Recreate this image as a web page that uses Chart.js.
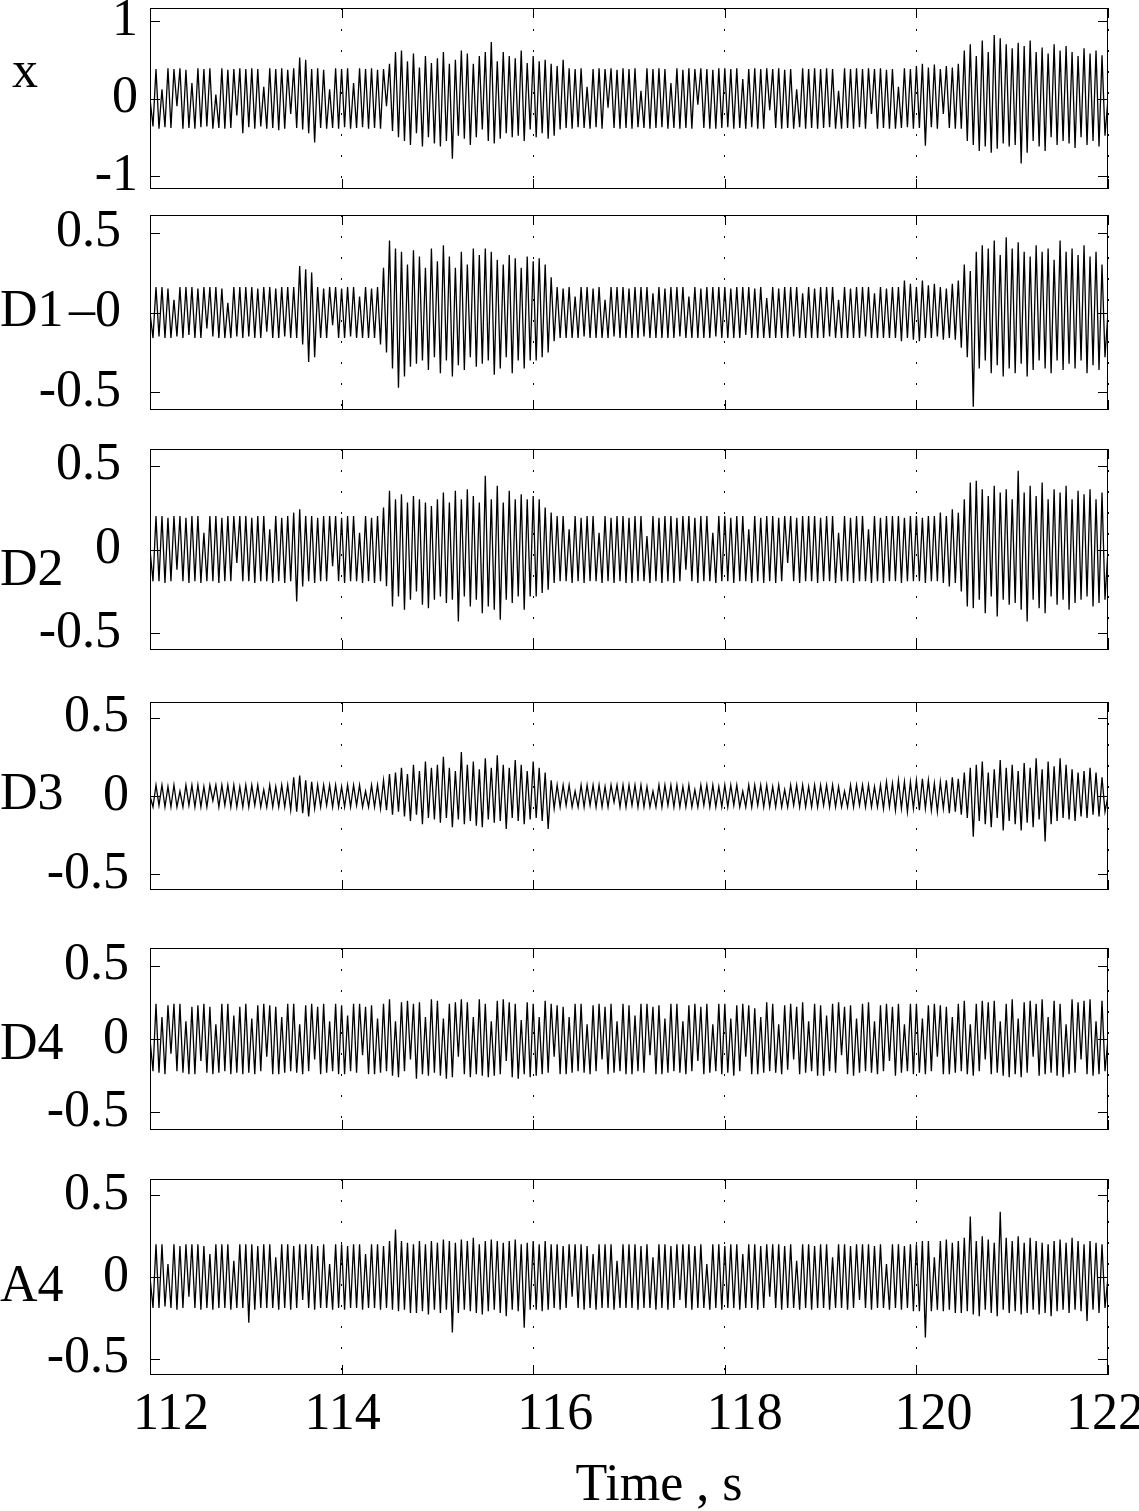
<!DOCTYPE html>
<html>
<head>
<meta charset="utf-8">
<title>Signal and wavelet details</title>
<script src="https://cdn.jsdelivr.net/npm/chart.js@4.4.1/dist/chart.umd.min.js"></script>
<style>
  html, body { margin: 0; padding: 0; background: #fff; }
  #wrap { position: relative; width: 1139px; height: 1511px; overflow: hidden; }
  #wrap canvas { position: absolute; left: 0; }
</style>
</head>
<body>
<div id="wrap"></div>
<script>
// samples in hundredths, 32 per second, starting at t = 112 s
const startTime = 112;
const sampleRate = 32;
const timeTicks = [112, 114, 116, 118, 120, 122];

const panelLabels = ['x', 'D1', 'D2', 'D3', 'D4', 'A4'];
const yLimits = [1.17, 0.61, 0.6, 0.6, 0.62, 0.6];
const yTickValues = [
  [-1, 0, 1], [-0.5, 0, 0.5], [-0.5, 0, 0.5], [-0.5, 0, 0.5], [-0.5, 0, 0.5], [-0.5, 0, 0.5]
];
const yTickText = [
  ['-1', '0', '1'], ['-0.5', '\u20130', '0.5'], ['-0.5', '0', '0.5'],
  ['-0.5', '0', '0.5'], ['-0.5', '0', '0.5'], ['-0.5', '0', '0.5']
];

const sigX = [
  0,-36,38,-39,12,-37,39,-38, 38,-10,39,-39,37,-38,20,-39, 39,-37,38,-36,39,-39,5,-38, 39,-39,37,-38,38,-22,39,-45,
  38,-37,39,-39,38,-36,15,-39, 39,-38,38,-41,39,-39,37,-20, 39,-38,53,-40,50,-45,38,-57, 39,-38,37,-39,12,-38,39,-39,
  38,-37,39,-39,20,-38,39,-37, 38,-39,39,-38,37,-39,38,-10, 45,-42,60,-50,62,-55,48,-60, 58,-45,40,-62,55,-50,46,-58,
  52,-62,60,-55,45,-78,50,-48, 62,-52,58,-60,45,-50,55,-40, 60,-55,73,-58,48,-52,60,-45, 55,-50,52,-48,62,-55,46,-40,
  55,-50,48,-45,50,-52,45,-48, 42,-40,50,-38,39,-39,38,-37, 39,-38,15,-39,38,-37,39,-39, 38,-12,39,-38,37,-39,39,-38,
  38,-39,39,-37,10,-38,39,-39, 38,-38,39,-37,38,-39,20,-38, 39,-39,37,-38,39,-39,38,-8, 39,-38,38,-39,37,-39,39,-38,
  39,-37,38,-39,39,-38,25,-39, 38,-37,39,-39,38,-39,39,-15, 38,-38,39,-39,37,-38,38,-39, 12,-37,39,-39,38,-38,39,-39,
  38,-38,39,-37,38,-39,10,-39, 39,-38,38,-39,39,-37,38,-39, 39,-20,38,-39,39,-38,37,-39, 38,-39,15,-38,39,-37,38,-39,
  42,-38,45,-61,40,-37,44,-39, 38,-20,42,-38,40,-39,45,-39, 62,-55,70,-60,55,-68,75,-62, 60,-70,82,-65,78,-58,70,-62,
  65,-60,72,-84,68,-70,75,-55, 60,-62,66,-68,58,-50,70,-60, 62,-55,68,-58,60,-64,55,-50, 65,-60,58,-55,62,-62,56,-48,
  0
];

const sigD1 = [
  0,-16,16,-15,16,-16,15,-16, 8,-15,16,-16,16,-14,16,-16, 15,-16,16,-10,16,-15,16,-16, 15,-16,6,-16,16,-15,16,-16,
  16,-15,16,-16,15,-16,16,-12, 16,-16,15,-16,16,-15,16,-16, 16,-16,29,-20,27,-31,25,-28, 16,-16,15,-16,16,-8,16,-16,
  15,-16,16,-15,16,-16,10,-16, 16,-16,15,-16,16,-20,28,-25, 45,-35,40,-47,38,-40,30,-34, 39,-32,35,-30,28,-36,40,-28,
  32,-38,42,-30,35,-40,28,-33, 38,-36,30,-28,40,-34,36,-32, 40,-30,38,-39,33,-35,30,-28, 36,-38,34,-30,28,-35,35,-30,
  32,-30,34,-28,30,-25,22,-18, 16,-16,15,-16,16,-16,10,-16, 16,-15,16,-16,15,-16,16,-16, 8,-16,16,-15,16,-16,16,-16,
  15,-16,16,-16,16,-15,16,-16, 12,-16,16,-16,15,-16,16,-16, 16,-15,16,-16,10,-16,16,-16, 15,-16,16,-16,16,-15,16,-16,
  16,-16,15,-16,16,-16,16,-14, 16,-16,15,-16,16,-16,9,-16, 16,-16,15,-16,16,-16,16,-15, 16,-16,12,-16,16,-16,15,-16,
  16,-16,16,-15,16,-16,8,-16, 16,-16,15,-16,16,-16,16,-15, 16,-16,12,-16,16,-16,15,-16, 16,-16,16,-18,20,-16,18,-17,
  16,-18,20,-16,17,-16,18,-15, 16,-17,15,-16,18,-17,20,-22, 30,-28,26,-59,38,-35,42,-30, 40,-38,45,-33,36,-40,47,-35,
  40,-38,44,-32,38,-40,35,-36, 42,-30,38,-35,40,-38,33,-30, 45,-36,38,-32,40,-35,36,-30, 42,-38,35,-33,38,-36,30,-28,
  0
];

const sigD2 = [
  0,-19,20,-19,20,-20,19,-19, 20,-12,20,-19,19,-20,20,-19, 20,-20,10,-19,20,-19,20,-20, 19,-19,20,-19,20,-8,20,-19,
  20,-19,19,-20,20,-19,20,-19, 12,-20,20,-19,19,-20,20,-19, 22,-31,24,-22,20,-19,20,-20, 19,-19,20,-19,20,-10,20,-19,
  19,-20,20,-19,20,-19,10,-20, 20,-19,19,-20,20,-19,25,-22, 35,-34,30,-28,33,-36,28,-30, 32,-25,30,-33,28,-35,26,-30,
  30,-28,34,-32,28,-30,35,-43, 30,-28,36,-34,32,-30,28,-38, 44,-34,30,-36,38,-42,28,-30, 35,-32,30,-28,33,-36,30,-28,
  32,-28,30,-26,25,-24,22,-20, 20,-19,20,-19,12,-20,20,-19, 19,-20,20,-19,20,-19,10,-20, 20,-19,19,-20,20,-19,20,-20,
  19,-20,20,-19,20,-19,8,-20, 20,-19,19,-20,20,-19,20,-20, 19,-19,20,-12,20,-19,19,-20, 20,-19,20,-19,10,-20,20,-19,
  20,-19,19,-20,20,-19,20,-19, 12,-20,20,-19,19,-20,20,-19, 20,-20,19,-19,20,-8,20,-19, 19,-20,20,-19,20,-19,20,-20,
  19,-19,20,-19,20,-20,10,-19, 20,-19,19,-20,20,-19,20,-19, 12,-20,20,-19,19,-20,20,-19, 20,-19,20,-20,19,-19,20,-19,
  20,-19,19,-20,20,-19,20,-19, 22,-20,20,-22,24,-20,22,-25, 30,-34,40,-35,41,-30,36,-38, 32,-28,38,-40,34,-30,36,-33,
  30,-32,47,-36,34,-43,38,-30, 32,-35,40,-38,30,-28,36,-33, 34,-30,38,-36,30,-32,35,-30, 33,-28,36,-34,30,-32,34,-30,
  0
];

const sigD3 = [
  0,-7,7,-6,7,-7,6,-7, 7,-7,3,-7,7,-6,7,-7, 7,-7,6,-7,7,-3,7,-7, 7,-6,7,-7,7,-7,6,-7,
  7,-7,7,-6,7,-7,4,-7, 7,-7,6,-7,7,-7,7,-9, 12,-10,13,-11,10,-13,9,-8, 7,-7,7,-6,7,-7,7,-7,
  6,-7,7,-7,7,-6,7,-7, 3,-7,7,-7,7,-8,10,-9, 14,-12,15,-10,18,-13,14,-16, 20,-12,16,-18,22,-14,18,-15,
  20,-17,25,-14,18,-20,16,-15, 28,-18,20,-16,22,-19,17,-20, 24,-15,18,-17,26,-16,20,-21, 18,-14,23,-16,20,-18,16,-15,
  22,-14,18,-16,15,-21,10,-8, 7,-7,7,-6,7,-7,3,-7, 7,-7,7,-6,7,-7,7,-7, 6,-7,7,-4,7,-7,7,-7,
  7,-6,7,-7,7,-7,6,-7, 3,-7,7,-7,7,-6,7,-7, 7,-7,6,-7,7,-7,4,-7, 7,-6,7,-7,7,-7,6,-7,
  7,-7,7,-6,7,-7,3,-7, 7,-7,7,-6,7,-7,7,-7, 6,-7,7,-7,4,-7,7,-6, 7,-7,7,-7,6,-7,7,-7,
  7,-6,7,-7,7,-7,6,-7, 3,-7,7,-7,7,-6,7,-7, 7,-7,6,-7,7,-8,9,-7, 8,-9,10,-8,9,-10,9,-8,
  10,-9,11,-8,10,-9,8,-10, 9,-8,10,-11,12,-10,11,-12, 15,-14,18,-26,20,-16,22,-18, 15,-20,17,-14,23,-22,18,-16,
  20,-18,16,-22,21,-17,18,-20, 24,-15,17,-29,22,-18,19,-16, 24,-14,20,-15,17,-16,15,-13, 16,-14,18,-12,15,-13,12,-10,
  0
];

const sigD4 = [
  0,-22,24,-23,15,-24,23,-10, 24,-22,24,-23,12,-24,22,-24, 23,-15,24,-23,22,-24,10,-23, 24,-22,24,-24,16,-23,22,-24,
  24,-23,14,-24,23,-22,24,-12, 23,-24,22,-24,15,-23,24,-22, 24,-23,10,-24,23,-22,24,-14, 22,-24,24,-23,12,-22,24,-24,
  23,-24,16,-22,24,-23,24,-11, 22,-24,23,-24,14,-23,24,-22, 27,-25,12,-26,25,-22,26,-14, 24,-27,25,-24,15,-25,27,-23,
  26,-25,14,-27,24,-26,25,-12, 27,-24,25,-26,15,-24,27,-25, 24,-26,12,-25,26,-24,27,-15, 25,-26,24,-27,13,-24,25,-26,
  24,-25,15,-24,26,-23,24,-12, 23,-24,22,-24,15,-23,24,-22, 24,-23,10,-24,23,-22,24,-14, 22,-24,24,-23,12,-22,24,-24,
  23,-24,16,-22,24,-23,24,-11, 22,-24,23,-24,14,-23,24,-22, 24,-23,12,-24,23,-22,24,-15, 22,-24,24,-23,10,-22,24,-24,
  24,-23,14,-25,23,-22,24,-12, 23,-24,21,-24,15,-23,25,-22, 24,-23,10,-24,23,-21,24,-14, 22,-24,25,-23,12,-22,24,-25,
  23,-25,16,-22,24,-23,25,-11, 22,-24,23,-25,14,-23,24,-22, 25,-23,12,-24,23,-22,24,-15, 22,-25,24,-23,10,-22,24,-24,
  24,-23,14,-24,23,-22,24,-12, 23,-24,22,-24,15,-23,24,-22, 26,-24,10,-25,24,-22,26,-14, 25,-24,26,-23,12,-25,24,-26,
  27,-24,14,-26,25,-23,26,-12, 24,-25,27,-24,15,-23,26,-25, 24,-26,10,-24,27,-23,25,-14, 26,-24,27,-25,12,-24,26,-22,
  0
];

const sigA4 = [
  0,-19,20,-19,20,-18,8,-19, 20,-20,19,-19,20,-12,20,-19, 20,-20,19,-19,14,-20,20,-19, 20,-19,20,-20,10,-19,20,-19,
  20,-28,20,-20,19,-19,20,-19, 20,-19,12,-20,20,-19,20,-20, 19,-19,20,-14,20,-19,20,-20, 19,-19,20,-19,8,-20,20,-19,
  20,-20,19,-19,20,-19,20,-20, 14,-19,20,-19,20,-20,19,-19, 22,-20,29,-21,22,-20,21,-22, 20,-22,22,-21,20,-23,22,-20,
  21,-22,23,-20,22,-34,21,-22, 23,-20,22,-21,24,-22,20,-23, 22,-21,23,-20,22,-22,21,-24, 22,-20,23,-21,20,-31,21,-20,
  22,-20,20,-21,22,-20,20,-19, 20,-20,19,-19,20,-12,20,-19, 20,-20,19,-19,14,-20,20,-19, 20,-19,20,-20,10,-19,20,-19,
  20,-19,20,-20,19,-19,20,-19, 12,-20,20,-19,20,-20,19,-19, 20,-14,20,-19,20,-20,19,-19, 20,-19,8,-20,20,-19,20,-20,
  19,-19,20,-19,20,-20,14,-19, 20,-19,20,-20,19,-19,20,-12, 20,-19,20,-20,19,-19,20,-19, 10,-20,20,-19,20,-20,19,-19,
  20,-19,20,-20,12,-19,20,-19, 20,-20,19,-19,20,-14,20,-19, 20,-20,19,-19,20,-19,8,-20, 20,-19,20,-20,19,-19,20,-21,
  20,-21,22,-37,22,-21,12,-20, 22,-21,23,-20,21,-22,22,-22, 24,-21,37,-23,22,-24,25,-20, 23,-22,21,-24,40,-20,24,-22,
  22,-21,25,-23,21,-22,24,-20, 22,-23,21,-22,20,-24,22,-21, 23,-20,21,-22,24,-20,22,-21, 20,-27,22,-20,21,-22,20,-19,
  0
];

const signals = [sigX, sigD1, sigD2, sigD3, sigD4, sigA4];

// page layout (pixels)
const pageW = 1139, pageH = 1511;
const plotLeft = 150, plotRight = 1108;
const panelBoxes = [[8, 189], [215, 410], [449, 650], [702, 890], [948, 1130], [1179, 1375]];
const labelShift = [-25, 0, 22, -1, 6, 10];
const labelLeft = [12, 0, 0, 0, 0, 0];
const yTickPad = [4, 21, 21, 13, 13, 13];
const xTickShift = [21, 1, 22, 20, 17, -3];
const edge = 10;
const fontSize = 52;
const fontFamily = '"Liberation Serif", "Times New Roman", serif';

Chart.defaults.font.family = fontFamily;
Chart.defaults.color = '#000';

window.addEventListener('DOMContentLoaded', () => {
  const wrap = document.getElementById('wrap');

  signals.forEach((values, i) => {
    const isLast = i === signals.length - 1;
    const [boxTop, boxBottom] = panelBoxes[i];
    const canvasTop = boxTop - edge;
    const canvasBottom = isLast ? pageH : boxBottom + edge;

    const canvas = document.createElement('canvas');
    canvas.width = pageW;
    canvas.height = canvasBottom - canvasTop;
    canvas.style.top = canvasTop + 'px';
    wrap.appendChild(canvas);

    const points = values.map((v, k) => ({ x: startTime + k / sampleRate, y: v / 100 }));

    const frame = {
      id: 'panelFrame',
      afterDraw(chart) {
        const { ctx, chartArea: a, scales: { x, y } } = chart;
        ctx.save();
        ctx.strokeStyle = '#000';
        ctx.lineWidth = 1;
        ctx.setLineDash([]);
        ctx.beginPath();
        x.ticks.forEach((t) => {
          const px = Math.round(x.getPixelForValue(t.value)) + 0.5;
          ctx.moveTo(px, a.top); ctx.lineTo(px, a.top + 10);
          ctx.moveTo(px, a.bottom); ctx.lineTo(px, a.bottom - 10);
        });
        y.ticks.forEach((t) => {
          const py = Math.round(y.getPixelForValue(t.value)) + 0.5;
          ctx.moveTo(a.left, py); ctx.lineTo(a.left + 10, py);
          ctx.moveTo(a.right, py); ctx.lineTo(a.right - 10, py);
        });
        ctx.stroke();
        ctx.strokeRect(Math.round(a.left) + 0.5, Math.round(a.top) + 0.5,
          Math.round(a.right - a.left) - 1, Math.round(a.bottom - a.top) - 1);

        ctx.fillStyle = '#000';
        ctx.font = fontSize + 'px ' + fontFamily;
        ctx.textAlign = 'left';
        ctx.textBaseline = 'middle';
        ctx.fillText(panelLabels[i], labelLeft[i], (a.top + a.bottom) / 2 + labelShift[i]);

        if (isLast) {
          // time tick labels, placed from the x scale
          ctx.textAlign = 'center';
          x.ticks.forEach((t, k) => {
            ctx.fillText(String(t.value), x.getPixelForValue(t.value) + xTickShift[k], a.bottom + 40);
          });
          ctx.textBaseline = 'alphabetic';
          ctx.fillText('Time , s', (a.left + a.right) / 2 + 30, 1500 - canvasTop);
        }
        ctx.restore();
      }
    };

    new Chart(canvas.getContext('2d'), {
      type: 'line',
      data: {
        datasets: [{
          data: points,
          borderColor: '#000',
          borderWidth: 1.3,
          pointRadius: 0,
          tension: 0,
          fill: false
        }]
      },
      options: {
        responsive: false,
        animation: false,
        devicePixelRatio: 1,
        events: [],
        layout: {
          padding: { left: 0, right: pageW - plotRight, top: edge, bottom: isLast ? 0 : edge }
        },
        plugins: {
          legend: { display: false },
          tooltip: { enabled: false }
        },
        scales: {
          x: {
            type: 'linear',
            min: timeTicks[0],
            max: timeTicks[timeTicks.length - 1],
            afterBuildTicks: (s) => { s.ticks = timeTicks.map((v) => ({ value: v })); },
            afterFit: (s) => {
              s.paddingLeft = 0;
              s.paddingRight = 0;
              s.height = isLast ? pageH - boxBottom : 0;
            },
            grid: { display: true, drawOnChartArea: true, drawTicks: false, color: '#000', lineWidth: 1 },
            border: { display: false, dash: [2, 19] },
            ticks: { display: false }
          },
          y: {
            type: 'linear',
            min: -yLimits[i],
            max: yLimits[i],
            afterBuildTicks: (s) => { s.ticks = yTickValues[i].map((v) => ({ value: v })); },
            afterFit: (s) => {
              s.width = plotLeft;
              s.paddingTop = 0;
              s.paddingBottom = 0;
            },
            grid: { display: false },
            border: { display: false },
            ticks: {
              color: '#000',
              font: { size: fontSize },
              padding: yTickPad[i],
              callback: (v, idx) => yTickText[i][idx]
            }
          }
        }
      },
      plugins: [frame]
    });
  });
});
</script>
</body>
</html>
